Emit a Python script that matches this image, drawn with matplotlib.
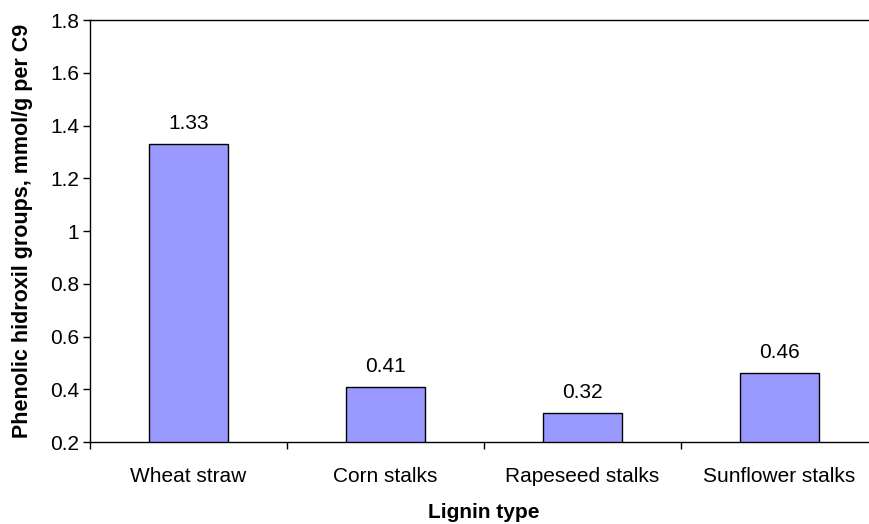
import matplotlib
matplotlib.use("Agg")
import matplotlib.pyplot as plt
import numpy as np

categories = ["Wheat straw", "Corn stalks", "Rapeseed stalks", "Sunflower stalks"]
values = [1.33, 0.41, 0.31, 0.46]
value_labels = ["1.33", "0.41", "0.32", "0.46"]
yticks = [0.2, 0.4, 0.6, 0.8, 1.0, 1.2, 1.4, 1.6, 1.8]
ytick_labels = ["0.2", "0.4", "0.6", "0.8", "1", "1.2", "1.4", "1.6", "1.8"]

plt.rcParams['font.family'] = ['Liberation Sans', 'DejaVu Sans']

fig = plt.figure(figsize=(8.69, 5.24), dpi=100)
W, H = 869, 524
left, right, top, bottom = 90, 878, 20, 442
ax = fig.add_axes([left / W, 1 - bottom / H, (right - left) / W, (bottom - top) / H])

FS = 15
x = np.arange(len(categories))
ax.bar(x, values, width=0.406, bottom=0, color="#9999FF", edgecolor="black", linewidth=1.0, zorder=2)

for xi, v, lab in zip(x, values, value_labels):
    ax.annotate(lab, (xi, v), xytext=(0, 8), textcoords="offset points",
                ha="center", va="bottom", fontsize=FS)

ax.set_xlim(-0.5, len(categories) - 0.5)
ax.set_ylim(0.2, 1.8)
ax.set_yticks(yticks)
ax.set_yticklabels(ytick_labels, fontsize=FS)
ax.set_xticks(x)
ax.set_xticklabels(categories, fontsize=FS)
ax.tick_params(axis="x", which="major", length=0, pad=18)
ax.set_xticks(np.arange(-0.5, len(categories), 1.0), minor=True)
ax.tick_params(axis="x", which="minor", length=5, width=1.0, direction="out")
ax.tick_params(axis="y", length=5, width=1.0, direction="out", pad=3)

for s in ["left", "bottom", "top"]:
    ax.spines[s].set_linewidth(1.0)
ax.spines["right"].set_visible(False)

ax.set_xlabel("Lignin type", fontsize=FS, fontweight="bold", labelpad=12)
ax.set_ylabel("Phenolic hidroxil groups, mmol/g per C9", fontsize=15.5, fontweight="bold", labelpad=12)

fig.savefig("out.png", dpi=100)
